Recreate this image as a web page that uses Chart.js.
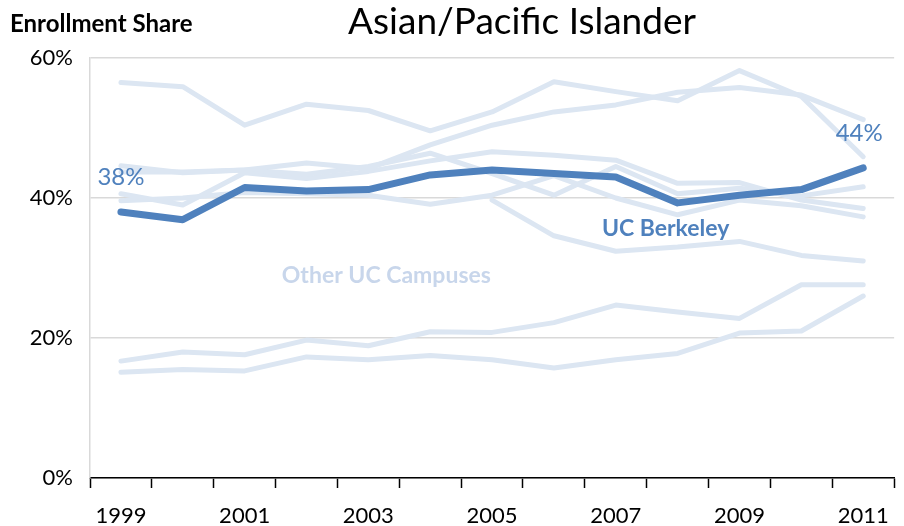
<!DOCTYPE html>
<html>
<head>
<meta charset="utf-8">
<script src="https://cdn.jsdelivr.net/npm/chart.js@4"></script>
<style>
  body { margin: 0; background: #fff; }
  #wrap { width: 904px; height: 526px; }
</style>
</head>
<body>
<div id="wrap"><canvas id="myChart" width="904" height="526"></canvas></div>
<script>
// values (share in %)
const years = ['1999', '2000', '2001', '2002', '2003', '2004', '2005', '2006', '2007', '2008', '2009', '2010', '2011'];
const yTicks = [0, 20, 40, 60];

const berkeley = [38.0, 36.9, 41.5, 41.0, 41.2, 43.3, 44.0, 43.5, 43.0, 39.3, 40.4, 41.2, 44.3];

const campus1 = [56.5, 55.9, 50.4, 53.4, 52.5, 49.6, 52.3, 56.6, 55.2, 53.9, 58.2, 54.5, 45.9];
const campus2 = [44.6, 43.6, 44.0, 45.0, 44.2, 47.6, 50.4, 52.3, 53.3, 55.1, 55.8, 54.7, 51.2];
const campus3 = [43.7, 43.7, 44.0, 43.4, 44.5, 46.4, 43.5, 40.4, 44.5, 40.6, 41.4, 40.3, 41.6];
const campus4 = [40.6, 39.0, 43.6, 42.8, 43.8, 45.3, 46.6, 46.1, 45.4, 42.1, 42.2, 39.7, 38.5];
const campus5 = [39.6, 40.0, 40.8, 40.6, 40.4, 39.1, 40.4, 43.2, 40.0, 37.6, 39.7, 38.9, 37.3];
const campus6 = [16.7, 18.0, 17.6, 19.7, 18.9, 20.9, 20.8, 22.2, 24.7, 23.7, 22.8, 27.6, 27.6];
const campus7 = [15.1, 15.5, 15.3, 17.3, 16.9, 17.5, 16.9, 15.7, 16.9, 17.8, 20.7, 21.0, 26.0];
const campus8 = [null, null, null, null, null, null, 39.7, 34.6, 32.4, 33.0, 33.8, 31.8, 31.0];

const otherCampuses = [campus1, campus2, campus3, campus4, campus5, campus6, campus7, campus8];

const darkBlue = '#4f81bd';
const lightBlue = '#dce6f2';
const fontFamily = 'Lato, Carlito, Calibri, sans-serif';

const lineStyle = {
    pointRadius: 0,
    tension: 0,
    borderCapStyle: 'round',
    borderJoinStyle: 'round',
    spanGaps: false
};

const datasets = [{
    label: 'UC Berkeley',
    data: berkeley,
    borderColor: darkBlue,
    borderWidth: 7,
    ...lineStyle
}];
otherCampuses.forEach((vals, i) => {
    datasets.push({
        label: 'Other ' + (i + 1),
        data: vals,
        borderColor: lightBlue,
        borderWidth: 5,
        ...lineStyle
    });
});

// titles and the text labels next to the lines
const textPlugin = {
    id: 'texts',
    afterDatasetsDraw(chart) {
        const ctx = chart.ctx;
        const x = chart.scales.x;
        const y = chart.scales.y;
        ctx.save();
        ctx.textBaseline = 'middle';
        ctx.textAlign = 'center';

        ctx.fillStyle = '#000';
        ctx.font = '37px ' + fontFamily;
        ctx.fillText('Asian/Pacific Islander', 522, 22);

        ctx.textAlign = 'left';
        ctx.font = 'bold 24px ' + fontFamily;
        ctx.fillText('Enrollment Share', 10, 24);

        ctx.textAlign = 'center';
        ctx.fillStyle = darkBlue;
        ctx.font = '24px ' + fontFamily;
        ctx.fillText(berkeley[0].toFixed(0) + '%', x.getPixelForValue(0), y.getPixelForValue(43.0));
        ctx.fillText(berkeley[12].toFixed(0) + '%', x.getPixelForValue(12) - 4, y.getPixelForValue(49.3));

        ctx.font = 'bold 23px ' + fontFamily;
        ctx.fillText('UC Berkeley', x.getPixelForValue(9) - 12, y.getPixelForValue(35.7));

        ctx.fillStyle = '#c8d6eb';
        ctx.fillText('Other UC Campuses', x.getPixelForValue(4) + 18, y.getPixelForValue(28.9));
        ctx.restore();
    }
};

const ctx = document.getElementById('myChart').getContext('2d');
new Chart(ctx, {
    type: 'line',
    data: {
        labels: years,
        datasets: datasets
    },
    options: {
        responsive: false,
        animation: false,
        layout: { padding: { top: 58, right: 7, left: 0, bottom: 0 } },
        plugins: {
            legend: { display: false },
            tooltip: { enabled: false }
        },
        scales: {
            x: {
                offset: true,
                afterFit: s => { s.height = 48; },
                grid: {
                    offset: true,
                    drawOnChartArea: false,
                    drawTicks: true,
                    tickLength: 10,
                    tickWidth: 1.5,
                    tickColor: '#000'
                },
                border: { color: '#000', width: 1.5 },
                ticks: {
                    autoSkip: false,
                    maxRotation: 0,
                    padding: 15,
                    color: '#000',
                    font: { family: fontFamily, size: 22 },
                    callback: (v, i) => (i % 2 === 0 ? years[i] : '')
                }
            },
            y: {
                min: yTicks[0],
                max: yTicks[yTicks.length - 1],
                afterFit: s => { s.width = 90; },
                afterBuildTicks: s => { s.ticks = yTicks.map(v => ({ value: v })); },
                grid: {
                    color: '#d9d9d9',
                    lineWidth: 1.5,
                    drawTicks: false
                },
                border: { color: '#d9d9d9', width: 1.5 },
                ticks: {
                    padding: 17,
                    color: '#000',
                    font: { family: fontFamily, size: 22 },
                    callback: v => v + '%'
                }
            }
        }
    },
    plugins: [textPlugin]
});
</script>
</body>
</html>
